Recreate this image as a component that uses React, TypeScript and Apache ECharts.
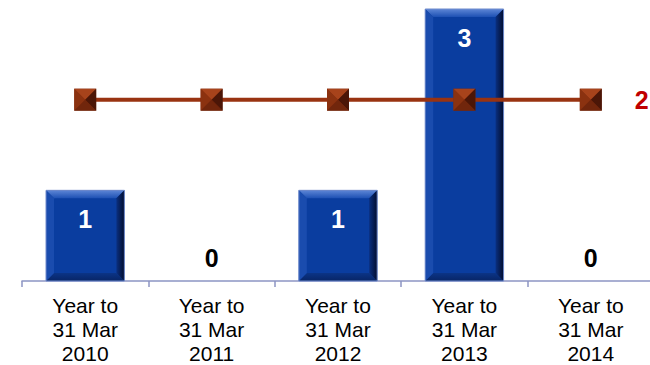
import React, { useEffect, useRef } from "react";
import * as echarts from "echarts";

const categories = [
  "Year to\n31 Mar\n2010",
  "Year to\n31 Mar\n2011",
  "Year to\n31 Mar\n2012",
  "Year to\n31 Mar\n2013",
  "Year to\n31 Mar\n2014",
];
const incidents = [1, 0, 1, 3, 0];
const target = [2, 2, 2, 2, 2];

const FONT = "'Liberation Sans', Arial, sans-serif";

export default function App() {
  const ref = useRef<HTMLDivElement>(null);
  useEffect(() => {
    if (!ref.current) return;
    const chart = echarts.init(ref.current, undefined, { renderer: "svg" });

    const renderBar = (params: any, api: any) => {
      const i = api.value(0);
      const v = api.value(1);
      const base = api.coord([i, 0]);
      const top = api.coord([i, v]);
      const w = api.size([1, 0])[0] * 0.62;
      const x0 = base[0] - w / 2;
      const x1 = base[0] + w / 2;
      const y0 = top[1];
      const y1 = base[1];
      const children: any[] = [];
      if (v > 0) {
        const b = 8;
        children.push({
          type: "rect",
          shape: { x: x0, y: y0, width: w, height: y1 - y0 },
          style: { fill: "#0a3d9f" },
        });
        children.push({
          type: "polygon",
          shape: { points: [[x0, y0], [x1, y0], [x1 - b, y0 + b], [x0 + b, y0 + b]] },
          style: {
            fill: new echarts.graphic.LinearGradient(0, 0, 0, 1, [
              { offset: 0, color: "#5d86d6" },
              { offset: 1, color: "#1d50b3" },
            ]),
          },
        });
        children.push({
          type: "polygon",
          shape: { points: [[x0, y1], [x1, y1], [x1 - b, y1 - b], [x0 + b, y1 - b]] },
          style: {
            fill: new echarts.graphic.LinearGradient(0, 0, 0, 1, [
              { offset: 0, color: "#0b3486" },
              { offset: 1, color: "#082566" },
            ]),
          },
        });
        children.push({
          type: "polygon",
          shape: { points: [[x0, y0], [x0 + b, y0 + b], [x0 + b, y1 - b], [x0, y1]] },
          style: { fill: "#1a4cae" },
        });
        children.push({
          type: "polygon",
          shape: { points: [[x1, y0], [x1 - b, y0 + b], [x1 - b, y1 - b], [x1, y1]] },
          style: {
            fill: new echarts.graphic.LinearGradient(0, 0, 1, 0, [
              { offset: 0, color: "#0a2f80" },
              { offset: 1, color: "#020d2e" },
            ]),
          },
        });
        children.push({
          type: "rect",
          shape: { x: x0, y: y0, width: w, height: y1 - y0 },
          style: { fill: "none", stroke: "#6f8acb", lineWidth: 1 },
        });
        children.push({
          type: "text",
          style: {
            text: String(v),
            x: base[0],
            y: y0 + 29,
            align: "center",
            verticalAlign: "middle",
            fill: "#ffffff",
            font: `bold 25px ${FONT}`,
          },
        });
      } else {
        children.push({
          type: "text",
          style: {
            text: String(v),
            x: base[0],
            y: y1 - 23,
            align: "center",
            verticalAlign: "middle",
            fill: "#000000",
            font: `bold 25px ${FONT}`,
          },
        });
      }
      return { type: "group", children };
    };

    const S = 22;
    const facet = (name: string, symbol: string, size: number[], offset: number[], color: string) => ({
      name,
      type: "scatter",
      data: target,
      symbol,
      symbolSize: size,
      symbolOffset: offset,
      itemStyle: { color },
      z: 5,
      silent: true,
    });

    chart.setOption({
      animation: false,
      grid: { left: 22, right: -4, top: 9, bottom: 84, outerBoundsMode: "none", containLabel: false },
      xAxis: {
        type: "category",
        data: categories,
        axisLine: { lineStyle: { color: "#8c95c3", width: 1.5 } },
        axisTick: { show: true, length: 6, lineStyle: { color: "#8c95c3", width: 1.5 } },
        axisLabel: {
          interval: 0,
          color: "#000",
          fontSize: 21,
          lineHeight: 24,
          fontFamily: FONT,
          fontWeight: "normal",
          margin: 12,
        },
      },
      yAxis: { type: "value", min: 0, max: 3, show: false },
      series: [
        {
          name: "Incidents",
          type: "custom",
          renderItem: renderBar,
          data: incidents.map((v, i) => [i, v]),
          encode: { x: 0, y: 1 },
          z: 2,
        },
        {
          name: "Target",
          type: "line",
          data: target,
          symbol: "rect",
          symbolSize: S,
          showSymbol: true,
          lineStyle: { color: "#993311", width: 4 },
          itemStyle: { color: "#7e2a0e" },
          z: 4,
          endLabel: {
            show: true,
            formatter: (p: any) => String(p.value),
            color: "#c00000",
            fontSize: 25,
            fontWeight: "bold",
            fontFamily: FONT,
            distance: 44,
          },
        },
        facet("t", "path://M0 0L2 0L1 1Z", [S, S / 2], [0, -S / 4], "#b24a1f"),
        facet("l", "path://M0 0L1 1L0 2Z", [S / 2, S], [-S / 4, 0], "#8f3412"),
        facet("r", "path://M1 0L1 2L0 1Z", [S / 2, S], [S / 4, 0], "#3f1206"),
        facet("b", "path://M0 1L2 1L1 0Z", [S, S / 2], [0, S / 4], "#6e260c"),
      ],
    });
    return () => chart.dispose();
  }, []);
  return (
    <div
      ref={ref}
      style={{ position: "absolute", left: 0, top: 0, width: 650, height: 365, background: "#fff" }}
    />
  );
}
